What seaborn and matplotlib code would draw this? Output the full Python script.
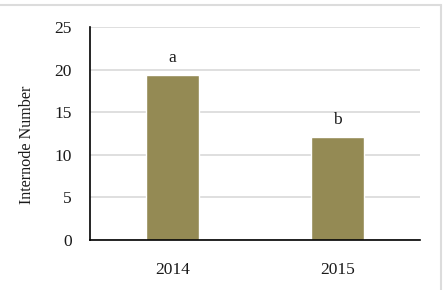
import matplotlib
matplotlib.use("Agg")
import matplotlib.pyplot as plt
import seaborn as sns
import pandas as pd
from matplotlib.lines import Line2D

years = ["2014", "2015"]
values = [19.4, 12.1]
letters = ["a", "b"]
yticks = [0, 5, 10, 15, 20, 25]

sns.set_theme(style="white")
plt.rcParams['font.family'] = ['Liberation Serif', 'DejaVu Serif']

df = pd.DataFrame({"Year": years, "Value": values})

fig = plt.figure(figsize=(4.46, 2.90), dpi=100)
ax = fig.add_axes([90/446, 1-240/290, 330/446, 213/290])

sns.barplot(data=df, x="Year", y="Value", color="#948A54", saturation=1,
            width=0.317, ax=ax, zorder=3)

ax.set_ylim(0, 25)
ax.set_xlim(-0.5, 1.5)
ax.set_yticks(yticks)
ax.yaxis.grid(True, color="#D9D9D9", linewidth=1.2, zorder=0)
ax.xaxis.grid(False)
ax.set_axisbelow(True)

for s in ["top", "right"]:
    ax.spines[s].set_visible(False)
for s in ["left", "bottom"]:
    ax.spines[s].set_color("black")
    ax.spines[s].set_linewidth(1.2)
    ax.spines[s].set_zorder(4)

ax.tick_params(axis="both", length=0, labelsize=12.5, colors="#1a1a1a")
ax.tick_params(axis="x", pad=16)
ax.tick_params(axis="y", pad=13)
ax.set_xlabel("")
ax.set_ylabel("Internode Number", fontsize=11.6, color="#1a1a1a")
ax.yaxis.set_label_coords(-0.167, 0.448)

for i, (v, l) in enumerate(zip(values, letters)):
    ax.text(i, v + 2.0, l, ha="center", va="center", fontsize=12.5, color="#1a1a1a")

# outer chart border (top and right visible)
fig.add_artist(Line2D([0, 441/446], [1-5/290, 1-5/290], transform=fig.transFigure,
                      color="#DCDCDC", linewidth=1.5))
fig.add_artist(Line2D([441/446, 441/446], [0, 1-5/290], transform=fig.transFigure,
                      color="#DCDCDC", linewidth=1.5))

fig.savefig("out.png", dpi=100)
